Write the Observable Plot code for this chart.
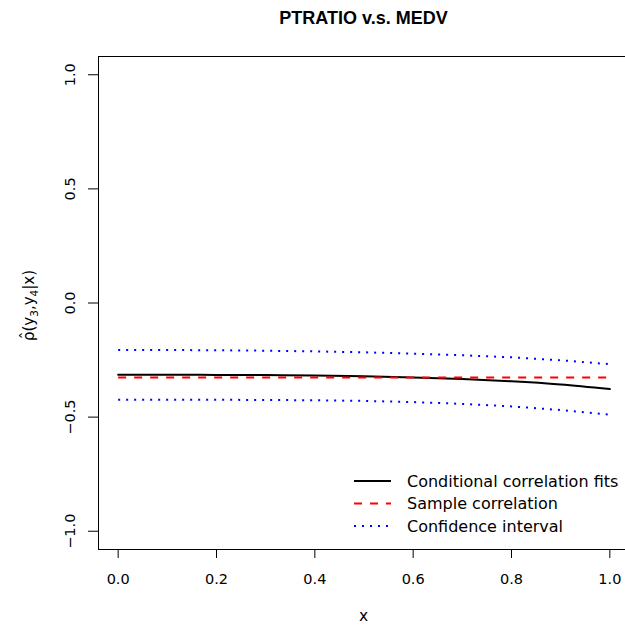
<!DOCTYPE html>
<html>
<head>
<meta charset="utf-8">
<script src="https://cdn.jsdelivr.net/npm/d3@7"></script>
<script src="https://cdn.jsdelivr.net/npm/@observablehq/plot@0.6"></script>
<style>
  html, body { margin: 0; padding: 0; background: #fff; }
  svg { display: block; }
</style>
</head>
<body>
<div id="chart"></div>
<script>
const title = "PTRATIO v.s. MEDV";
const xs = [0, 0.1, 0.2, 0.3, 0.4, 0.5, 0.6, 0.7, 0.8, 0.9, 1.0];
const fit = [-0.314, -0.314, -0.315, -0.316, -0.318, -0.321, -0.326, -0.333, -0.343, -0.357, -0.377];
const sampleCorr = -0.326;
const upper = [-0.206, -0.206, -0.207, -0.209, -0.212, -0.216, -0.222, -0.229, -0.238, -0.251, -0.268];
const lower = [-0.424, -0.424, -0.424, -0.425, -0.426, -0.429, -0.434, -0.442, -0.453, -0.469, -0.489];
const xTicks = [0, 0.2, 0.4, 0.6, 0.8, 1.0];
const yTicks = [-1.0, -0.5, 0.0, 0.5, 1.0];
const legendLabels = ["Conditional correlation fits", "Sample correlation", "Confidence interval"];

const rows = xs.map((x, i) => ({x, fit: fit[i], sample: sampleCorr, upper: upper[i], lower: lower[i]}));
const fmt = d3.format(".1f");
const FONT = "'DejaVu Sans', 'Liberation Sans', sans-serif";
const TFONT = "'Liberation Sans', Arial, Helvetica, sans-serif";

const chart = Plot.plot({
  width: 625,
  height: 627,
  marginLeft: 98,
  marginRight: -4,
  marginTop: 56,
  marginBottom: 78,
  style: {fontFamily: FONT, background: "white", color: "black", overflow: "hidden"},
  x: {domain: [-0.04, 1.04], axis: null},
  y: {domain: [-1.08, 1.08], axis: null},
  marks: [
    Plot.frame({stroke: "black", strokeWidth: 1}),
    Plot.axisX({ticks: xTicks, tickSize: 9, tickFormat: () => "", label: null}),
    Plot.axisY({ticks: yTicks, tickSize: 10, tickFormat: () => "", label: null}),
    Plot.text(xTicks, {x: d => d, frameAnchor: "bottom", dy: 30, text: d => fmt(d), fontSize: 14.5, lineAnchor: "middle"}),
    Plot.text(yTicks, {y: d => d, frameAnchor: "left", dx: -28, rotate: -90, text: d => fmt(d), fontSize: 14.5, lineAnchor: "middle", textAnchor: "middle"}),
    Plot.line(rows, {x: "x", y: "upper", stroke: "#0000FF", strokeWidth: 2, strokeDasharray: "2,6", strokeLinecap: "butt"}),
    Plot.line(rows, {x: "x", y: "lower", stroke: "#0000FF", strokeWidth: 2, strokeDasharray: "2,6", strokeLinecap: "butt"}),
    Plot.line(rows, {x: "x", y: "fit", stroke: "black", strokeWidth: 2, curve: "monotone-x"}),
    Plot.line(rows, {x: "x", y: "sample", stroke: "#FF0000", strokeWidth: 2, strokeDasharray: "8,8", strokeLinecap: "butt"})
  ]
});

const svg = d3.select(chart);
// Title
svg.append("text").attr("x", 363.5).attr("y", 24).attr("text-anchor", "middle")
  .attr("font-family", TFONT).attr("font-weight", "bold").attr("font-size", 18).attr("fill", "black").text(title);
// x label
svg.append("text").attr("x", 363.5).attr("y", 621).attr("text-anchor", "middle")
  .attr("font-family", FONT).attr("font-size", 15.5).attr("fill", "black").text("x");
// y label with hat and subscripts
const ylg = svg.append("g").attr("transform", "translate(34,304) rotate(-90)");
const yl = ylg.append("text").attr("x", -37).attr("y", 0).attr("text-anchor", "start")
  .attr("font-family", FONT).attr("font-size", 15).attr("fill", "black");
yl.append("tspan").text("\u03C1(y");
yl.append("tspan").attr("font-size", 10.5).attr("dy", 4).text("3");
yl.append("tspan").attr("dy", -4).text(",y");
yl.append("tspan").attr("font-size", 10.5).attr("dy", 4).text("4");
yl.append("tspan").attr("dy", -4).text("|x)");
ylg.append("text").attr("x", -31.5).attr("y", -2).attr("text-anchor", "middle")
  .attr("font-family", FONT).attr("font-size", 16).attr("fill", "black").text("\u02C6");
// Legend
const legendStyles = [
  {stroke: "black", dash: null},
  {stroke: "#FF0000", dash: "8,8"},
  {stroke: "#0000FF", dash: "2,6"}
];
const leg = svg.append("g");
legendLabels.forEach((lab, i) => {
  const y = 481 + i * 22.5;
  const ln = leg.append("line").attr("x1", 354).attr("x2", 391).attr("y1", y).attr("y2", y)
    .attr("stroke", legendStyles[i].stroke).attr("stroke-width", 2);
  if (legendStyles[i].dash) ln.attr("stroke-dasharray", legendStyles[i].dash);
  leg.append("text").attr("x", 407).attr("y", y).attr("dy", "0.36em").attr("text-anchor", "start")
    .attr("font-family", FONT).attr("font-size", 16).attr("fill", "black").text(lab);
});

document.getElementById("chart").appendChild(chart);
</script>
</body>
</html>
